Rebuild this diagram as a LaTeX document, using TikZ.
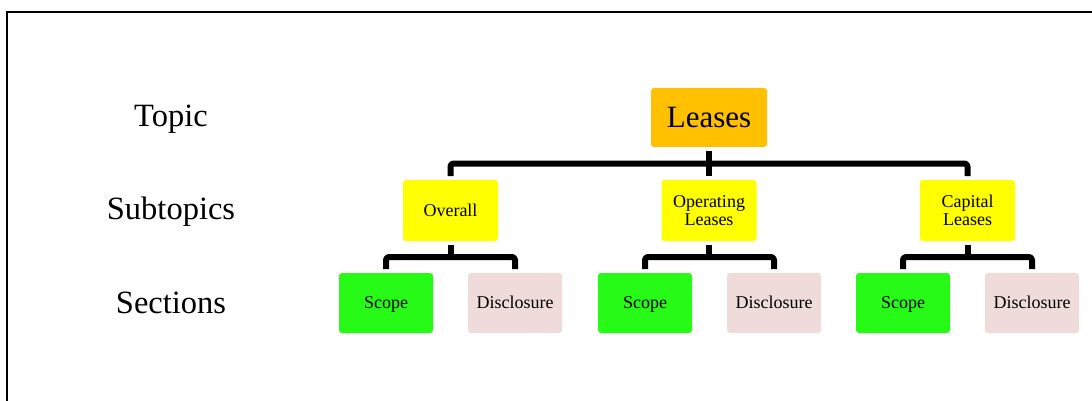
\documentclass[tikz,border=0pt]{standalone}
\usepackage{fontspec}
\setmainfont{Liberation Serif}
\usetikzlibrary{calc}
\definecolor{leasecol}{RGB}{255,192,0}
\definecolor{subcol}{RGB}{255,255,0}
\definecolor{scopecol}{RGB}{40,250,24}
\definecolor{disccol}{RGB}{240,219,219}
\tikzset{
  box/.style={rounded corners=3pt, inner sep=0pt, outer sep=4pt, align=center, font=\fontsize{18}{18}\selectfont},
  topbox/.style={box, fill=leasecol, minimum width=116pt, minimum height=59pt, font=\fontsize{31}{33}\selectfont},
  subbox/.style={box, fill=subcol, minimum width=95pt, minimum height=61pt},
  secbox/.style={box, minimum width=94pt, minimum height=60pt, text height=14pt, text depth=3pt},
  scopebox/.style={secbox, fill=scopecol},
  discbox/.style={secbox, fill=disccol},
  rowlabel/.style={font=\fontsize{32.5}{34}\selectfont},
  conn/.style={line width=6pt, rounded corners=3pt, line join=round},
}
\begin{document}
\begin{tikzpicture}[x=1pt,y=-1pt]
\useasboundingbox (0,0) rectangle (1092,401);
\draw[line width=2pt] (7,402) -- (7,12) -- (1093,12);

\node[rowlabel] (ltopic) at (171,119) {Topic};
\node[rowlabel] (lsub) at (171,212) {Subtopics};
\node[rowlabel] (lsec) at (171,303) {Sections};

\node[topbox] (leases) at (709,117.5) {Leases};

\node[subbox] (overall) at (450.5,210.5) {Overall};
\node[subbox] (oper) at (709,210.5) {Operating\\Leases};
\node[subbox] (capital) at (967.5,210.5) {Capital\\Leases};

\node[scopebox] (s1) at (386,303) {Scope};
\node[discbox] (d1) at (515,303) {Disclosure};
\node[scopebox] (s2) at (645,303) {Scope};
\node[discbox] (d2) at (774,303) {Disclosure};
\node[scopebox] (s3) at (903,303) {Scope};
\node[discbox] (d3) at (1032,303) {Disclosure};

\draw[conn] (leases.south) -- (oper.north);
\draw[conn] (overall.north) |- ($(leases.south)!0.5!(oper.north)$) -| (capital.north);

\draw[conn] (s1.north) |- ($(overall.south)!0.5!(s1.north)$) -| (d1.north);
\draw[conn] (overall.south) -- ($(overall.south)!0.5!(overall.south |- s1.north)$);

\draw[conn] (s2.north) |- ($(oper.south)!0.5!(s2.north)$) -| (d2.north);
\draw[conn] (oper.south) -- ($(oper.south)!0.5!(oper.south |- s2.north)$);

\draw[conn] (s3.north) |- ($(capital.south)!0.5!(s3.north)$) -| (d3.north);
\draw[conn] (capital.south) -- ($(capital.south)!0.5!(capital.south |- s3.north)$);
\end{tikzpicture}
\end{document}
